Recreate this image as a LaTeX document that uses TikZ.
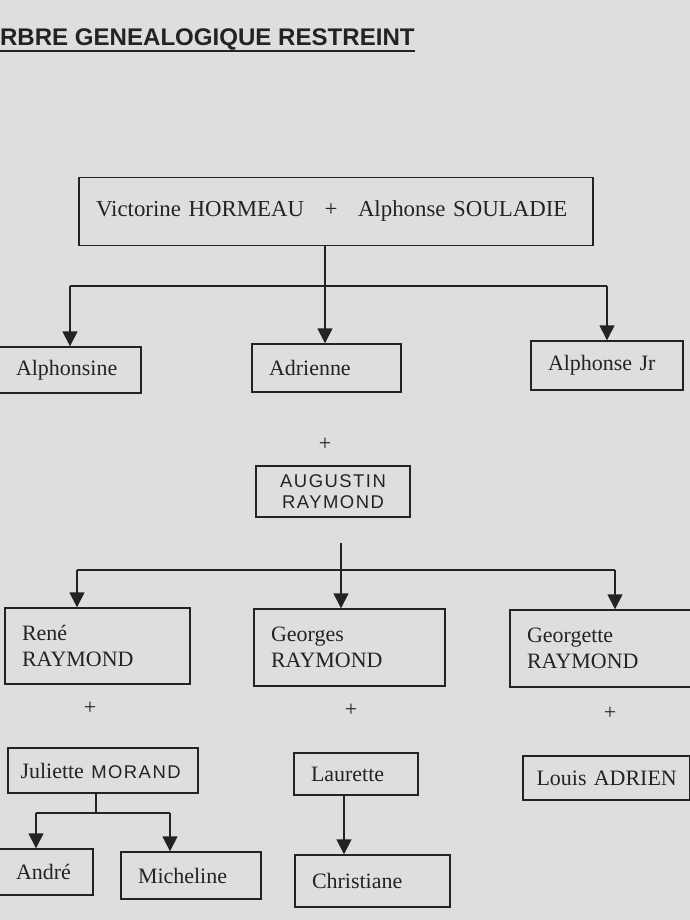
\documentclass[tikz,border=0pt]{standalone}
\usepackage{fontspec}
\setmainfont{Liberation Serif}
\newfontfamily\titlefont{Liberation Sans}
\newfontfamily\handfont[LetterSpace=8]{Liberation Sans}
\usetikzlibrary{arrows.meta}
\definecolor{paper}{RGB}{221,223,222}
\definecolor{ink}{RGB}{35,35,35}
\newcommand{\hand}[1]{{\handfont\fontsize{10.5}{11.5}\selectfont #1}}

\begin{document}
\begin{tikzpicture}[x=0.02cm, y=-0.02cm]
    \tikzset{
        person/.style={
            draw=ink, line width=0.8pt, text=ink,
            align=left, text width=#1, inner xsep=0.34cm, inner ysep=0pt,
            font=\fontsize{12.5}{15}\selectfont
        },
        spouse/.style={
            draw=ink, line width=0.7pt, text=ink,
            align=center, text width=#1, inner xsep=0.19cm, inner ysep=0pt
        },
        plus/.style={text=ink, inner sep=0pt, font=\fontsize{12.5}{15}\selectfont},
        heading/.style={
            text=ink, inner sep=0pt, text depth=0.12cm,
            font=\titlefont\bfseries\fontsize{13.7}{16}\selectfont
        },
        link/.style={draw=ink, line width=0.8pt},
        kid/.style={link, -{Triangle[length=0.3cm, width=0.3cm]}},
    }
    \useasboundingbox (0,0) rectangle (690,920);
    \fill[paper] (0,0) rectangle (690,920);
    \clip (0,0) rectangle (690,920);

    % ==== Title ====
    \node[heading, anchor=base east] (title) at (415,45) {ARBRE GENEALOGIQUE RESTREINT};
    \draw[link, line width=1.1pt] (title.south west) -- (title.south east);

    % ==== Generation 1 ====
    \node[person=9.6cm, minimum height=1.36cm, font=\fontsize{13}{15}\selectfont] (couple) at (336,211.5)
        {Victorine HORMEAU\hspace{0.9em}+\hspace{0.9em}Alphonse SOULADIE};

    % ==== Generation 2 ====
    \node[person=2.16cm, minimum height=0.92cm] (alphonsine) at (70,370) {Alphonsine};
    \node[person=2.3cm, minimum height=0.96cm] (adrienne) at (326.5,368) {Adrienne};
    \node[person=2.36cm, minimum height=0.98cm] (alphonsejr) at (607,365.5) {Alphonse Jr};
    \node[plus] (plus0) at (325,444) {+};
    \node[spouse=2.7cm, minimum height=1.02cm] (augustin) at (333,491.5) {\hand{AUGUSTIN}\\\hand{RAYMOND}};

    \coordinate (bar1) at (325,286);
    \draw[link] (couple.south -| bar1) -- (bar1);
    \draw[link] (bar1 -| alphonsine.north) -- (bar1 -| alphonsejr.north);
    \draw[kid] (bar1 -| alphonsine.north) -- (alphonsine.north);
    \draw[kid] (bar1) -- (bar1 |- adrienne.north);
    \draw[kid] (bar1 -| alphonsejr.north) -- (alphonsejr.north);

    % ==== Generation 3 ====
    \node[person=3.02cm, minimum height=1.52cm] (rene) at (97.5,646) {René\\RAYMOND};
    \node[person=3.14cm, minimum height=1.54cm] (georges) at (349.5,647.5) {Georges\\RAYMOND};
    \node[person=3.12cm, minimum height=1.54cm] (georgette) at (605,648.5) {Georgette\\RAYMOND};

    \coordinate (drop2) at (341,543);
    \coordinate (bar2l) at (77,570);
    \coordinate (bar2r) at (615,570);
    \draw[link] (bar2l) -- (bar2r);
    \draw[kid] (drop2) -- (drop2 |- georges.north);
    \draw[kid] (bar2l) -- (bar2l |- rene.north);
    \draw[kid] (bar2r) -- (bar2r |- georgette.north);

    \node[plus] (plus1) at (90,708) {+};
    \node[plus] (plus2) at (351,710) {+};
    \node[plus] (plus3) at (610,713) {+};

    \node[person=3.3cm, inner xsep=0.25cm, minimum height=0.9cm] (juliette) at (103,770.5)
        {Juliette \hand{MORAND}};
    \node[person=1.8cm, minimum height=0.84cm] (laurette) at (356,774) {Laurette};
    \node[person=2.8cm, inner xsep=0.27cm, minimum height=0.88cm] (louis) at (606.5,778) {Louis~ADRIEN};

    % ==== Generation 4 ====
    \node[person=1.2cm, minimum height=0.92cm] (andre) at (46,872) {André};
    \node[person=2.12cm, minimum height=0.94cm] (micheline) at (191,875.5) {Micheline};
    \node[person=2.42cm, minimum height=1.04cm] (christiane) at (372.5,881) {Christiane};

    \coordinate (drop3) at (96,813);
    \coordinate (bar3l) at (36,813);
    \coordinate (bar3r) at (170,813);
    \draw[link] (juliette.south -| drop3) -- (drop3);
    \draw[link] (bar3l) -- (bar3r);
    \draw[kid] (bar3l) -- (bar3l |- andre.north);
    \draw[kid] (bar3r) -- (bar3r |- micheline.north);

    \coordinate (drop4) at (344,800);
    \draw[kid] (laurette.south -| drop4) -- (drop4 |- christiane.north);

\end{tikzpicture}
\end{document}
